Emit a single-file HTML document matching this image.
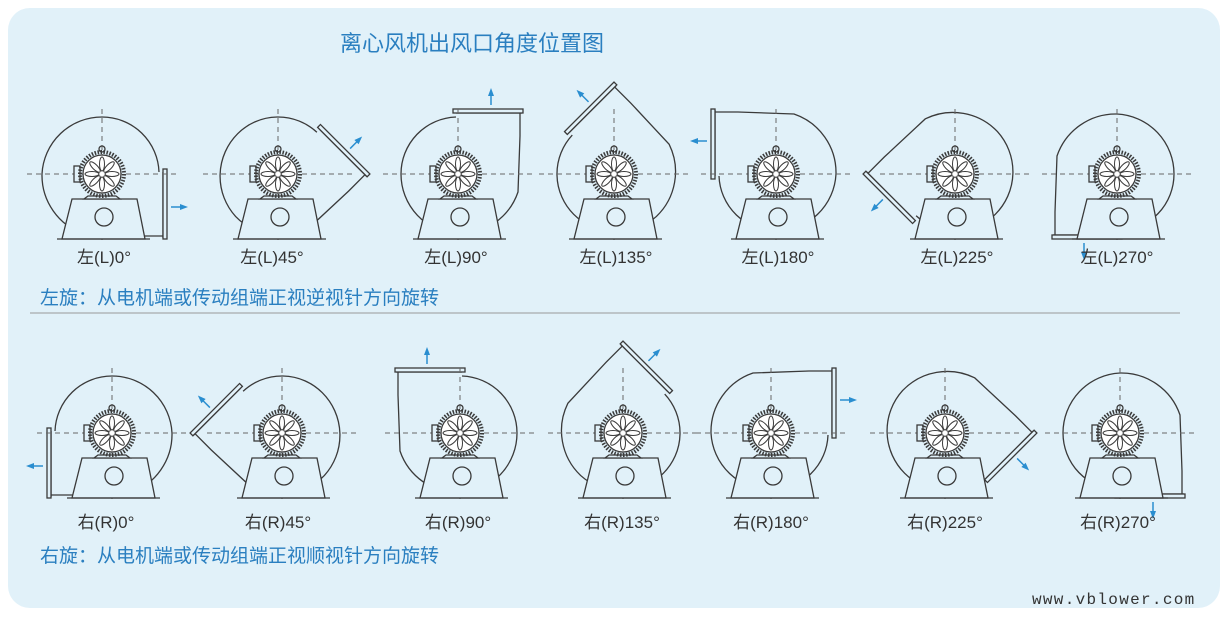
<!DOCTYPE html>
<html><head><meta charset="utf-8">
<style>
body{margin:0;background:#fff;width:1228px;height:617px;overflow:hidden;font-family:"Liberation Sans","Noto Sans CJK SC",sans-serif}
</style></head><body>
<svg width="1228" height="617" viewBox="0 0 1228 617" xmlns="http://www.w3.org/2000/svg">
<defs>
<g id="vol" fill="none" stroke="#3a3a3a" stroke-width="1.3">
  <path d="M57,-2 A57,57 0 0 0 0,-57 A60,60 0 0 0 -60,0 A62,62 0 0 0 -18,60 L38,62 L61,62" fill="none"/>
  <line x1="61" y1="-2" x2="61" y2="64"/>
  <rect x="61" y="-5" width="4" height="70" fill="#e1f1f9"/>
  <line x1="69" y1="33" x2="80" y2="33" stroke="#2a8ed0" stroke-width="1.5"/>
  <path d="M86,33 L78,30 L78,36 Z" fill="#2a8ed0" stroke="none"/>
</g>
<g id="body" stroke="#3a3a3a" stroke-width="1.3">
  <line x1="-75" y1="0" x2="75" y2="0" stroke="#666" stroke-dasharray="5 4" stroke-width="1"/>
  <line x1="0" y1="-65" x2="0" y2="68" stroke="#666" stroke-dasharray="5 4" stroke-width="1"/>
  <path d="M-30,25 L35,25 L43,65 L-40,65 Z" fill="#e1f1f9"/>
  <line x1="-45" y1="65" x2="48" y2="65"/>
  <circle cx="2" cy="43" r="9" fill="#e1f1f9"/>
  <rect x="-28" y="-8" width="6" height="16" fill="#e1f1f9"/>
  <circle cx="0" cy="-25" r="3" fill="none"/>
  <path d="M-14,22 L14,22 L18,25 L-18,25 Z" fill="#e1f1f9"/>
  <circle cx="0" cy="0" r="22" fill="none" stroke-width="4" stroke-dasharray="1.5 1.5"/>
  <circle cx="0" cy="0" r="19" fill="#fff"/>
  <g stroke-width="1" fill="none">
    <ellipse cx="0" cy="-10" rx="2.5" ry="7"/>
    <ellipse cx="0" cy="10" rx="2.5" ry="7"/>
    <ellipse cx="-10" cy="0" rx="7" ry="2.5"/>
    <ellipse cx="10" cy="0" rx="7" ry="2.5"/>
    <ellipse cx="7" cy="-7" rx="2.5" ry="7" transform="rotate(45 7 -7)"/>
    <ellipse cx="-7" cy="7" rx="2.5" ry="7" transform="rotate(45 -7 7)"/>
    <ellipse cx="-7" cy="-7" rx="2.5" ry="7" transform="rotate(-45 -7 -7)"/>
    <ellipse cx="7" cy="7" rx="2.5" ry="7" transform="rotate(-45 7 7)"/>
  </g>
</g>
</defs>
<rect x="8" y="8" width="1212" height="600" rx="22" fill="#e1f1f9"/>
<text x="340" y="51" font-size="22" fill="#2a7fc0">离心风机出风口角度位置图</text>

<g transform="translate(102,174)"><use href="#vol"/><use href="#body"/></g>
<g transform="translate(278,174)"><use href="#vol" transform="rotate(-45)"/><use href="#body"/></g>
<g transform="translate(458,174)"><use href="#vol" transform="rotate(-90)"/><use href="#body"/></g>
<g transform="translate(614,174)"><use href="#vol" transform="rotate(-135)"/><use href="#body"/></g>
<g transform="translate(776,174)"><use href="#vol" transform="rotate(-180)"/><use href="#body"/></g>
<g transform="translate(955,174)"><use href="#vol" transform="rotate(-225)"/><use href="#body"/></g>
<g transform="translate(1117,174)"><use href="#vol" transform="rotate(-270)"/><use href="#body"/></g>

<g font-size="17" fill="#333" text-anchor="middle">
<text x="104" y="263">左(L)0°</text>
<text x="272" y="263">左(L)45°</text>
<text x="456" y="263">左(L)90°</text>
<text x="616" y="263">左(L)135°</text>
<text x="778" y="263">左(L)180°</text>
<text x="957" y="263">左(L)225°</text>
<text x="1117" y="263">左(L)270°</text>
</g>
<text x="40" y="304" font-size="19" fill="#2a7fc0">左旋：从电机端或传动组端正视逆视针方向旋转</text>
<line x1="30" y1="313" x2="1180" y2="313" stroke="#999" stroke-width="1"/>

<g transform="translate(112,433)"><use href="#vol" transform="scale(-1,1)"/><use href="#body"/></g>
<g transform="translate(282,433)"><use href="#vol" transform="rotate(45) scale(-1,1)"/><use href="#body"/></g>
<g transform="translate(460,433)"><use href="#vol" transform="rotate(90) scale(-1,1)"/><use href="#body"/></g>
<g transform="translate(623,433)"><use href="#vol" transform="rotate(135) scale(-1,1)"/><use href="#body"/></g>
<g transform="translate(771,433)"><use href="#vol" transform="rotate(180) scale(-1,1)"/><use href="#body"/></g>
<g transform="translate(945,433)"><use href="#vol" transform="rotate(225) scale(-1,1)"/><use href="#body"/></g>
<g transform="translate(1120,433)"><use href="#vol" transform="rotate(270) scale(-1,1)"/><use href="#body"/></g>

<g font-size="17" fill="#333" text-anchor="middle">
<text x="106" y="528">右(R)0°</text>
<text x="278" y="528">右(R)45°</text>
<text x="458" y="528">右(R)90°</text>
<text x="622" y="528">右(R)135°</text>
<text x="771" y="528">右(R)180°</text>
<text x="945" y="528">右(R)225°</text>
<text x="1118" y="528">右(R)270°</text>
</g>
<text x="40" y="562" font-size="19" fill="#2a7fc0">右旋：从电机端或传动组端正视顺视针方向旋转</text>
<text x="1032" y="604" font-size="16" letter-spacing="1.3" fill="#333" font-family="Liberation Mono, monospace">www.vblower.com</text>
</svg>
</body></html>
